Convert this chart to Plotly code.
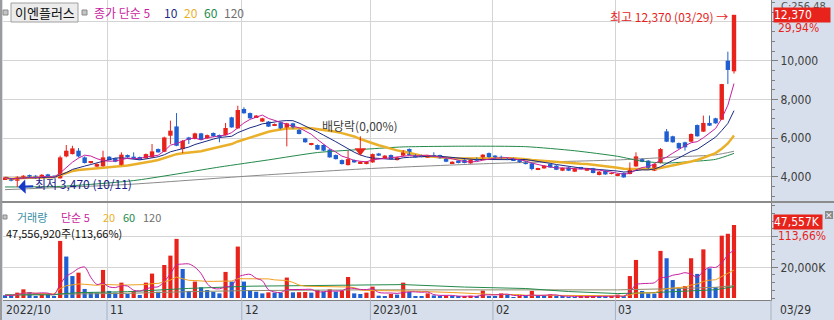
import numpy as np
import pandas as pd
import plotly.graph_objects as go

# ---------------- data ----------------
holidays = ["2022-10-10", "2022-12-30", "2023-01-23", "2023-01-24", "2023-03-01"]
dates = [d for d in pd.bdate_range("2022-10-06", "2023-03-29")
         if d.strftime("%Y-%m-%d") not in holidays]
month_labels = ["2022/10", "11", "12", "2023/01", "02", "03"]
last_label = "03/29"

opens = [3880, 3915, 3790, 3915, 4085, 4050, 3930, 4120, 4050, 3915,
         5050, 5170, 5345, 5000, 4710, 4520, 4535, 5035, 4950, 4600,
         5120, 5035, 5015, 4950, 5000, 5430, 5290, 6120, 6600, 5430,
         6030, 5950, 6240, 5980, 6260, 6150, 6150, 7070, 6500, 7500,
         7290, 7070, 6850, 6850, 6640, 6810, 6470, 6760, 6430, 5980,
         5640, 5640, 5640, 5400, 5120, 4860, 4600, 4860, 4690, 4655,
         4740, 5200, 4950, 5120, 4860, 5090, 5430, 5140, 5120, 5000,
         5120, 5120, 4950, 4690, 4830, 4880, 4690, 4960, 4880, 5220,
         5090, 5030, 4950, 4950, 4860, 4790, 4690, 4360, 4430, 4650,
         4570, 4310, 4480, 4260, 4480, 4310, 4430, 4090, 4310, 4140,
         4050, 4190, 4140, 4530, 4910, 4830, 4310, 4710, 6345, 6090,
         5740, 5780, 5810, 6670, 6330, 6780, 7020, 6950, 10000, 9450]
highs = [3990, 3940, 4030, 4080, 4110, 4080, 4130, 4150, 4070, 5090,
         5640, 5600, 5480, 5050, 4800, 4700, 5345, 5060, 4980, 5260,
         5150, 5260, 5040, 5200, 5690, 5460, 6070, 6900, 7290, 5900,
         6060, 6280, 6270, 6180, 6290, 6180, 6780, 7100, 7670, 7590,
         7320, 7190, 7050, 6880, 6750, 6840, 6790, 6790, 6460, 6010,
         5750, 5670, 5670, 5430, 5150, 4890, 5345, 4890, 4800, 4800,
         5200, 5230, 5120, 5150, 5030, 5380, 5460, 5160, 5140, 5110,
         5260, 5140, 4980, 4800, 4850, 4900, 4900, 4990, 5170, 5250,
         5120, 5090, 4970, 4980, 4880, 4810, 4720, 4460, 4600, 4680,
         4600, 4480, 4510, 4460, 4510, 4460, 4460, 4290, 4340, 4220,
         4170, 4220, 4740, 5260, 4950, 4860, 4690, 5480, 6465, 6120,
         5770, 5810, 6240, 6700, 7160, 7160, 7050, 8800, 10465, 12370]
lows = [3860, 3760, 3470, 3900, 3930, 3910, 3920, 3970, 3930, 3900,
        5000, 5150, 5000, 4680, 4680, 4500, 4520, 4840, 4750, 4580,
        4980, 4910, 4860, 4930, 4980, 5240, 5270, 5690, 5580, 5220,
        5690, 5930, 5890, 5960, 6070, 5780, 6130, 6530, 6480, 7260,
        7000, 7050, 6830, 6570, 6620, 6450, 5570, 6480, 6190, 5760,
        5620, 5380, 5320, 4980, 4890, 4630, 4580, 4720, 4670, 4640,
        4720, 5070, 4930, 4890, 4840, 5070, 5100, 4980, 5000, 4980,
        5030, 4930, 4750, 4670, 4690, 4690, 4670, 4810, 4860, 4980,
        4930, 4930, 4860, 4830, 4720, 4630, 4330, 4340, 4410, 4460,
        4340, 4290, 4290, 4240, 4380, 4290, 4170, 4070, 4100, 4120,
        4030, 3950, 4120, 4510, 4750, 4380, 4290, 4690, 5790, 5760,
        5440, 5350, 5790, 6070, 6310, 6620, 6740, 6930, 8790, 9330]
closes = [3965, 3795, 3990, 4050, 3950, 3930, 4100, 3985, 3950, 5000,
          5345, 5465, 5050, 4710, 4775, 4655, 5000, 4860, 4775, 5140,
          5000, 4930, 4880, 5170, 5310, 5260, 6030, 6380, 5600, 5860,
          5910, 6240, 5910, 6150, 6090, 6090, 6520, 6550, 7450, 7280,
          7020, 7160, 7020, 6590, 6720, 6470, 6760, 6500, 6210, 5780,
          5720, 5400, 5345, 5000, 4910, 4655, 4910, 4740, 4775, 4775,
          5170, 5090, 5090, 4910, 5000, 5345, 5120, 5000, 5015, 5090,
          5050, 4950, 4775, 4775, 4710, 4710, 4880, 4830, 5140, 5000,
          4950, 4950, 4880, 4850, 4740, 4655, 4400, 4430, 4570, 4480,
          4360, 4450, 4310, 4430, 4400, 4430, 4190, 4260, 4120, 4190,
          4140, 3965, 4430, 5050, 4775, 4400, 4655, 5430, 5810, 5780,
          5465, 5520, 6210, 6090, 6780, 6640, 6760, 8790, 9520, 12370]
volumes_k = [1800, 1500, 3500, 5650, 3900, 900, 2800, 2600, 1300, 37200,
             27000, 14300, 16500, 5900, 3900, 3500, 18300, 4600, 3500, 10000,
             2600, 4600, 2000, 10000, 15900, 4100, 21500, 27600, 38500, 18900,
             4600, 10700, 7000, 5200, 3900, 3000, 17000, 10700, 33500, 10700,
             5200, 4100, 3000, 3700, 3500, 3400, 13300, 3700, 3800, 3900,
             3500, 5200, 4100, 5650, 4100, 4600, 13700, 3000, 2600, 3500,
             7400, 1500, 1300, 2600, 2200, 10000, 3900, 1300, 1200, 3000,
             1700, 1300, 1500, 900, 800, 1300, 1500, 1300, 4800, 1300,
             1200, 3000, 2400, 400, 1300, 900, 4600, 1300, 900, 2400,
             900, 700, 650, 600, 900, 1300, 1500, 900, 700, 1300,
             2200, 900, 14300, 24800, 4600, 3000, 2900, 30700, 25900, 11700,
             6300, 7800, 25900, 15700, 31700, 19300, 7000, 40600, 41841, 47556.92]

# long moving averages (need history before the window)
ma60_idx = [0, 9, 21, 35, 43, 51, 59, 65, 75, 85, 93, 100, 104, 108, 112, 116, 119]
ma60_val = [3470, 3500, 3800, 4500, 4870, 5250, 5426, 5541, 5577, 5553, 5342, 5055, 4800, 4706, 4785, 4898, 5205]
ma120_idx = [0, 20, 40, 59, 80, 100, 110, 116, 119]
ma120_val = [3330, 3600, 4040, 4413, 4690, 4867, 5031, 5132, 5315]
vma60_idx = [0, 8, 9, 12, 20, 30, 40, 50, 59, 65, 75, 85, 92, 100, 105, 110, 115, 116, 117, 118, 119]
vma60_val = [2000, 2060, 2650, 3500, 4114, 6243, 7691, 8122, 8597, 8741, 7134, 6178, 4222, 2894, 3390, 4216, 5495, 5383, 6018, 6678, 7413]
vma120_idx = [0, 10, 20, 30, 40, 59, 80, 100, 110, 116, 119]
vma120_val = [2000, 2531, 3057, 4121, 4845, 5298, 5384, 5292, 6169, 6964, 8005]

# ---------------- styles ----------------
RED = "#e8231c"
BLUE = "#1f5fd2"
MAG = "#c81e9e"
NAVY = "#1b2a84"
ORANGE = "#eab02a"
GREEN = "#23894a"
GRAY = "#8a8a8a"
GRID = "#d4d4d4"
PANEL = "#d6dfeb"
AXC = "#808080"
KFONT = "Noto Sans CJK KR, Noto Sans, sans-serif"
NFONT = "Liberation Sans Narrow, DejaVu Sans Condensed, Noto Sans CJK KR, sans-serif"

W, H = 834, 320
L, R, T, B = 3, 63, 0, 20
PW, PH = W - L - R, H - T - B


def xp(px):
    return (px - L) / PW


def yp(py):
    return (PH - py) / PH


n = len(closes)
x = np.arange(n)
cs = pd.Series(closes, dtype=float)
vs = pd.Series(volumes_k, dtype=float)
ma5 = cs.rolling(5, min_periods=1).mean()
ma10 = cs.rolling(10, min_periods=1).mean()
ma20 = cs.rolling(20, min_periods=1).mean()
vma5 = vs.rolling(5, min_periods=1).mean()
vma20 = vs.rolling(20, min_periods=1).mean()
vcolors = [BLUE if i == 0 or volumes_k[i] <= volumes_k[i - 1] else RED for i in range(n)]
up = [c >= o for o, c in zip(opens, closes)]
ccolors = [RED if u else BLUE for u in up]
body_base = [min(o, c) for o, c in zip(opens, closes)]
body_h = [max(abs(c - o), 18) for o, c in zip(opens, closes)]

starts = [i for i in range(n) if i == 0 or dates[i].month != dates[i - 1].month]
bounds = [s - 0.35 for s in starts]

fig = go.Figure()
# price MAs (behind candles)
fig.add_trace(go.Scatter(x=ma120_idx, y=ma120_val, mode="lines", line=dict(color=GRAY, width=1, shape="spline", smoothing=0.6), xaxis="x", yaxis="y", hoverinfo="skip"))
fig.add_trace(go.Scatter(x=ma60_idx, y=ma60_val, mode="lines", line=dict(color=GREEN, width=1, shape="spline", smoothing=0.6), xaxis="x", yaxis="y", hoverinfo="skip"))
fig.add_trace(go.Scatter(x=x, y=ma20, mode="lines", line=dict(color=ORANGE, width=2.5), xaxis="x", yaxis="y", hoverinfo="skip"))
fig.add_trace(go.Scatter(x=x, y=ma10, mode="lines", line=dict(color=NAVY, width=1), xaxis="x", yaxis="y", hoverinfo="skip"))
fig.add_trace(go.Scatter(x=x, y=ma5, mode="lines", line=dict(color=MAG, width=1), xaxis="x", yaxis="y", hoverinfo="skip"))

# candle wicks
for flag, col in ((True, RED), (False, BLUE)):
    wx, wy = [], []
    for i in range(n):
        if up[i] == flag:
            wx += [i, i, None]
            wy += [lows[i], highs[i], None]
    fig.add_trace(go.Scatter(x=wx, y=wy, mode="lines", line=dict(color=col, width=1),
                             xaxis="x", yaxis="y", hoverinfo="skip"))
# candle bodies
fig.add_trace(go.Bar(x=x, y=body_h, base=body_base, width=0.72,
                     marker=dict(color=ccolors, line=dict(width=0)),
                     xaxis="x", yaxis="y", hoverinfo="skip"))

# volume
fig.add_trace(go.Bar(x=x, y=volumes_k, marker=dict(color=vcolors, line=dict(width=0)), width=0.68,
                     xaxis="x2", yaxis="y2", hoverinfo="skip"))
fig.add_trace(go.Scatter(x=vma120_idx, y=vma120_val, mode="lines", line=dict(color="#8c8c6a", width=1), xaxis="x2", yaxis="y2", hoverinfo="skip"))
fig.add_trace(go.Scatter(x=vma60_idx, y=vma60_val, mode="lines", line=dict(color=GREEN, width=1), xaxis="x2", yaxis="y2", hoverinfo="skip"))
fig.add_trace(go.Scatter(x=x, y=vma20, mode="lines", line=dict(color="#f0a020", width=1), xaxis="x2", yaxis="y2", hoverinfo="skip"))
fig.add_trace(go.Scatter(x=x, y=vma5, mode="lines", line=dict(color=MAG, width=1, shape="spline", smoothing=0.8), xaxis="x2", yaxis="y2", hoverinfo="skip"))

# dividend marker
div_i = 58
fig.add_trace(go.Scatter(x=[div_i], y=[highs[div_i] + 540], mode="markers",
                         marker=dict(symbol="triangle-down", size=10, color=RED, line=dict(width=0)),
                         xaxis="x", yaxis="y", hoverinfo="skip"))

xr = [-0.33, (W - R - 5) / 6.126]
axis_common = dict(range=xr, showticklabels=False, tickvals=bounds[1:], showgrid=True,
                   gridcolor=GRID, gridwidth=1, zeroline=False, ticks="", fixedrange=True)
fig.update_layout(
    width=W, height=H, margin=dict(l=L, r=R, t=T, b=B),
    paper_bgcolor=PANEL, plot_bgcolor="white", showlegend=False, barmode="overlay",
    xaxis=dict(domain=[0, 1], anchor="y", **axis_common),
    xaxis2=dict(domain=[0, 1], anchor="y2", matches="x", showline=True, linecolor=AXC, **axis_common),
    yaxis=dict(domain=[yp(201), 1], range=[2744, 13137], side="right",
               tickvals=[4000, 6000, 8000, 10000, 12000],
               ticktext=["4,000", "6,000", "8,000", "10,000", ""],
               showgrid=True, gridcolor=GRID, zeroline=False,
               ticks="outside", ticklen=6, tickcolor=AXC,
               minor=dict(ticks="outside", ticklen=3, dtick=500, tick0=0, tickcolor=AXC, showgrid=False),
               showline=True, linecolor=AXC, tickfont=dict(family=NFONT, size=12, color="#3c3c3c")),
    yaxis2=dict(domain=[0, yp(203)], range=[-1303, 61890], side="right",
                tickvals=[20000, 40000], ticktext=["20,000K", ""],
                showgrid=True, gridcolor=GRID, zeroline=False,
                ticks="outside", ticklen=6, tickcolor=AXC,
                minor=dict(ticks="outside", ticklen=3, dtick=5000, tick0=0, tickcolor=AXC, showgrid=False),
                showline=True, linecolor=AXC, tickfont=dict(family=NFONT, size=12, color="#3c3c3c")),
)

shapes = []
# gridlines through date strip
for b in bounds[1:]:
    shapes.append(dict(type="line", xref="x", yref="paper", x0=b, x1=b, y0=yp(320), y1=0,
                       line=dict(color="#a8b2c0", width=1)))
shapes.append(dict(type="line", xref="paper", yref="paper", x0=1, x1=1, y0=yp(320), y1=0,
                   line=dict(color="#a8b2c0", width=1)))
# panel separator
shapes.append(dict(type="line", xref="paper", yref="paper", x0=xp(0), x1=xp(834), y0=yp(202), y1=yp(202),
                   line=dict(color="#8c8c8c", width=2)))
# left border
shapes.append(dict(type="line", xref="paper", yref="paper", x0=xp(1), x1=xp(1), y0=yp(320), y1=yp(0),
                   line=dict(color="#9a9a9a", width=2)))
# dividend line
shapes.append(dict(type="line", xref="x", yref="y", x0=div_i, x1=div_i,
                   y0=highs[div_i] + 650, y1=highs[div_i] + 1290, line=dict(color=RED, width=1)))
# title bar widgets
shapes.append(dict(type="rect", xref="paper", yref="paper", x0=xp(11), x1=xp(78), y0=yp(22), y1=yp(3),
                   fillcolor="#ececec", line=dict(color="#a0a0a0", width=1)))
for sx in (3, 82):
    shapes.append(dict(type="rect", xref="paper", yref="paper", x0=xp(sx), x1=xp(sx + 5), y0=yp(15), y1=yp(10),
                       fillcolor="#c4c4c4", line=dict(color="#8a8a8a", width=1)))
shapes.append(dict(type="rect", xref="paper", yref="paper", x0=xp(3), x1=xp(7), y0=yp(219), y1=yp(215),
                   fillcolor="#c4c4c4", line=dict(color="#8a8a8a", width=1)))
# close icon on volume label
shapes.append(dict(type="rect", xref="paper", yref="paper", x0=xp(825), x1=xp(833), y0=yp(219), y1=yp(211),
                   fillcolor="#8a8a8a", line=dict(width=0)))
fig.update_layout(shapes=shapes)

ann = []


def txt(px, py, s, color, size=12, anchor="left", family=KFONT):
    ann.append(dict(xref="paper", yref="paper", x=xp(px), y=yp(py), text=s, showarrow=False,
                    xanchor=anchor, yanchor="middle", font=dict(family=family, size=size, color=color)))


# title bar
txt(44.5, 12.5, "이엔플러스", "#111111", 13, "center")
txt(92, 12.5, "종가 단순 5", MAG)
txt(162, 12.5, "10", NAVY)
txt(182, 12.5, "20", ORANGE)
txt(202, 12.5, "60", GREEN)
txt(222, 12.5, "120", "#707070")
# volume title
txt(15, 217, "거래량", "#3a8fa3", 11)
txt(59, 217, "단순 5", MAG, 11)
txt(101, 217, "20", ORANGE, 11)
txt(121, 217, "60", GREEN, 11)
txt(141, 217, "120", "#707070", 11)
vol_shares = int(round(volumes_k[-1] * 1000))
vol_pct = volumes_k[-1] / volumes_k[-2] * 100
txt(4, 233, f"{vol_shares:,}주({vol_pct:.2f}%)".replace(".", ","), "#111111", 11)

# date strip labels
for s, lab in zip(starts, month_labels):
    ann.append(dict(xref="paper", yref="paper", x=(s - 0.35 - xr[0]) / (xr[1] - xr[0]), y=yp(310),
                    text=lab, showarrow=False, xanchor="left", yanchor="middle", xshift=1,
                    font=dict(family=NFONT, size=12, color="#333333")))
txt(778, 310, last_label, "#333333", 12, "left", NFONT)

# right panel value boxes
txt(779, 6, "C:256,48", "#555555", 11, "left", NFONT)
ann.append(dict(xref="paper", yref="y", x=xp(773), y=closes[-1], text=f"{closes[-1]:,}", showarrow=False,
                xanchor="left", yanchor="middle", bgcolor=RED, width=56, align="left", borderpad=0,
                font=dict(family=NFONT, size=12, color="white")))
chg = (closes[-1] / closes[-2] - 1) * 100
ann.append(dict(xref="paper", yref="y", x=xp(776), y=closes[-1], yshift=-13, text=f"{chg:.2f}%".replace(".", ","),
                showarrow=False, xanchor="left", yanchor="middle", font=dict(family=NFONT, size=12, color=RED)))
ann.append(dict(xref="paper", yref="y2", x=xp(773), y=volumes_k[-1], yshift=3, text=f"{round(volumes_k[-1]):,}K",
                showarrow=False, xanchor="left", yanchor="middle", bgcolor=RED, width=48, align="left", borderpad=0,
                font=dict(family=NFONT, size=12, color="white")))
ann.append(dict(xref="paper", yref="y2", x=xp(776), y=volumes_k[-1], yshift=-11,
                text=f"{vol_pct:.2f}%".replace(".", ","), showarrow=False, xanchor="left", yanchor="middle",
                font=dict(family=NFONT, size=12, color=RED)))
txt(829, 215, "×", "white", 9, "center", "DejaVu Sans")

# high / low / dividend annotations
hi = int(np.argmax(highs))
lo = int(np.argmin(lows))
ann.append(dict(xref="x", yref="y", x=hi, y=highs[hi], xshift=-4, yshift=-2,
                text=f"최고 {highs[hi]:,} ({dates[hi]:%m/%d}) →", showarrow=False,
                xanchor="right", yanchor="middle", font=dict(family=KFONT, size=12, color=RED)))
ann.append(dict(xref="x", yref="y", x=lo, y=lows[lo], text=f"최저 {lows[lo]:,} ({dates[lo]:%m/%d})",
                showarrow=True, arrowhead=1, arrowsize=1.2, arrowwidth=2, arrowcolor="#1638c8",
                ax=66, ay=-3, standoff=1, font=dict(family=KFONT, size=12, color="#1c1c8c")))
ann.append(dict(xref="x", yref="y", x=div_i, y=highs[div_i] + 1300, text="배당락(0,00%)", showarrow=False,
                xanchor="center", yanchor="bottom", font=dict(family=KFONT, size=12, color="#404040")))
fig.update_layout(annotations=ann)

fig.write_html("out.html")
